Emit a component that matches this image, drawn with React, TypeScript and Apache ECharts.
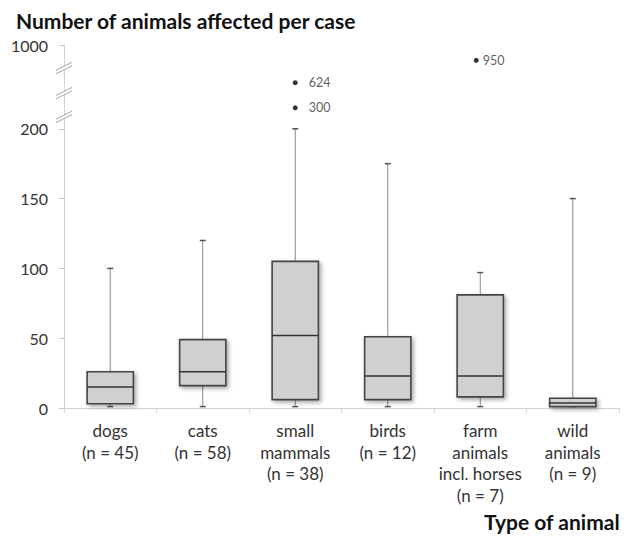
import React, { useEffect, useRef } from "react";
import * as echarts from "echarts";

// Categories and five-number summaries per animal group
const categories = [
  "dogs\n(n = 45)",
  "cats\n(n = 58)",
  "small\nmammals\n(n = 38)",
  "birds\n(n = 12)",
  "farm\nanimals\nincl. horses\n(n = 7)",
  "wild\nanimals\n(n = 9)",
];
const whiskerMin = [1, 1, 1, 1, 1, 1];
const quartile1 = [3, 16, 6, 6, 8, 1];
const medians = [15, 26, 52, 23, 23, 3.5];
const quartile3 = [26, 49, 105, 51, 81, 7];
const whiskerMax = [100, 120, 200, 175, 97, 150];

// Outliers beyond the whiskers
const outlierCategory = [2, 2, 4];
const outlierValue = [624, 300, 950];

// Tick labels on the value axis
const yTickValues = [0, 50, 100, 150, 200, 1000];

// Broken value axis: linear up to 200, then compressed segments
const axisKnotReal = [0, 200, 300, 624, 950, 1000];
const axisKnotDisplay = [0, 200, 215, 233, 249, 260];
const breakDisplay = [208.5, 225.5, 243.5];

function toDisplay(v: number): number {
  for (let i = 1; i < axisKnotReal.length; i++) {
    if (v <= axisKnotReal[i]) {
      const r0 = axisKnotReal[i - 1], r1 = axisKnotReal[i];
      const d0 = axisKnotDisplay[i - 1], d1 = axisKnotDisplay[i];
      return d0 + ((v - r0) / (r1 - r0)) * (d1 - d0);
    }
  }
  return axisKnotDisplay[axisKnotDisplay.length - 1];
}

function toReal(d: number): number {
  for (let i = 1; i < axisKnotDisplay.length; i++) {
    if (d <= axisKnotDisplay[i] + 1e-6) {
      const r0 = axisKnotReal[i - 1], r1 = axisKnotReal[i];
      const d0 = axisKnotDisplay[i - 1], d1 = axisKnotDisplay[i];
      return Math.round(r0 + ((d - d0) / (d1 - d0)) * (r1 - r0));
    }
  }
  return axisKnotReal[axisKnotReal.length - 1];
}

const FONT = "Lato, 'Open Sans', sans-serif";

export default function App() {
  const ref = useRef<HTMLDivElement>(null);

  useEffect(() => {
    document.body.style.margin = "0";
    if (!ref.current) return;
    const chart = echarts.init(ref.current, undefined, { renderer: "svg" });

    const boxData = categories.map((_, i) => [
      i,
      toDisplay(whiskerMin[i]),
      toDisplay(quartile1[i]),
      toDisplay(medians[i]),
      toDisplay(quartile3[i]),
      toDisplay(whiskerMax[i]),
    ]);

    const outlierData = outlierValue.map((v, i) => ({
      value: [outlierCategory[i], toDisplay(v)],
      real: v,
      symbolOffset: outlierCategory[i] === 4 ? [-4, 0] : [0, 0],
      label: { distance: outlierCategory[i] === 4 ? 4 : 11 },
    }));

    const yTicksDisplay = yTickValues.map(toDisplay);

    const option: any = {
      animation: false,
      backgroundColor: "#ffffff",
      title: {
        text: "Number of animals affected per case",
        left: 11,
        top: 5,
        textStyle: {
          fontFamily: FONT,
          fontWeight: "bold",
          fontSize: 21,
          color: "#111111",
        },
      },
      graphic: [
        {
          type: "text",
          right: 4,
          top: 511,
          style: {
            text: "Type of animal",
            fontFamily: FONT,
            fontWeight: "bold",
            fontSize: 21,
            fill: "#111111",
          },
        },
      ],
      grid: { left: 64, right: 5, top: 45, bottom: 131 },
      xAxis: {
        type: "category",
        data: categories,
        boundaryGap: true,
        axisLine: { lineStyle: { color: "#d4d4d4", width: 1 } },
        axisTick: { show: true, length: 5, lineStyle: { color: "#d4d4d4" } },
        axisLabel: {
          interval: 0,
          margin: 12,
          fontFamily: FONT,
          fontSize: 17,
          lineHeight: 21.5,
          color: "#333333",
          verticalAlign: "top",
        },
        splitLine: { show: false },
      },
      yAxis: {
        type: "value",
        min: 0,
        max: axisKnotDisplay[axisKnotDisplay.length - 1],
        axisLine: { show: true, lineStyle: { color: "#d4d4d4", width: 1 } },
        axisTick: {
          show: true,
          length: 5,
          customValues: yTicksDisplay,
          lineStyle: { color: "#c8c8c8" },
        },
        axisLabel: {
          customValues: yTicksDisplay,
          margin: 16,
          fontFamily: FONT,
          fontSize: 16,
          color: "#333333",
          formatter: (v: number) => String(toReal(v)),
        },
        splitLine: { show: false },
      },
      series: [
        {
          type: "custom",
          name: "boxes",
          data: boxData,
          encode: { x: 0, y: [1, 2, 3, 4, 5] },
          z: 3,
          renderItem: (params: any, api: any) => {
            const idx = api.value(0);
            const pMin = api.coord([idx, api.value(1)]);
            const pQ1 = api.coord([idx, api.value(2)]);
            const pMed = api.coord([idx, api.value(3)]);
            const pQ3 = api.coord([idx, api.value(4)]);
            const pMax = api.coord([idx, api.value(5)]);
            const band = api.size([1, 0])[0];
            const half = band * 0.25;
            const cx = pMed[0];
            const whiskerStyle = { stroke: "#8a8a8a", lineWidth: 1 };
            const capStyle = { stroke: "#555555", lineWidth: 1.5 };
            return {
              type: "group",
              children: [
                {
                  type: "line",
                  shape: { x1: cx, y1: pQ3[1], x2: cx, y2: pMax[1] },
                  style: whiskerStyle,
                },
                {
                  type: "line",
                  shape: { x1: cx, y1: pMin[1], x2: cx, y2: pQ1[1] },
                  style: whiskerStyle,
                },
                {
                  type: "line",
                  shape: { x1: cx - 3, y1: pMax[1], x2: cx + 3, y2: pMax[1] },
                  style: capStyle,
                },
                {
                  type: "line",
                  shape: { x1: cx - 3, y1: pMin[1], x2: cx + 3, y2: pMin[1] },
                  style: capStyle,
                },
                {
                  type: "rect",
                  shape: {
                    x: cx - half,
                    y: pQ3[1],
                    width: half * 2,
                    height: pQ1[1] - pQ3[1],
                  },
                  style: {
                    fill: "#d0d0d0",
                    stroke: "#444444",
                    lineWidth: 1.6,
                    shadowBlur: 4,
                    shadowOffsetX: 2,
                    shadowOffsetY: 2,
                    shadowColor: "rgba(0,0,0,0.35)",
                  },
                },
                {
                  type: "line",
                  shape: { x1: cx - half, y1: pMed[1], x2: cx + half, y2: pMed[1] },
                  style: { stroke: "#333333", lineWidth: 1.5 },
                },
              ],
            };
          },
        },
        {
          type: "scatter",
          name: "outliers",
          data: outlierData,
          symbol: "circle",
          symbolSize: 5,
          itemStyle: { color: "#000000" },
          z: 4,
          label: {
            show: true,
            position: "right",
            fontFamily: FONT,
            fontSize: 12.5,
            color: "#333333",
            formatter: (p: any) => String(p.data.real),
          },
        },
        {
          type: "custom",
          name: "axis breaks",
          data: breakDisplay.map((d) => [0, d]),
          encode: { x: 0, y: 1 },
          z: 5,
          silent: true,
          renderItem: (params: any, api: any) => {
            const p = api.coord([0, api.value(1)]);
            const band = api.size([1, 0])[0];
            const x0 = p[0] - band / 2;
            const y0 = p[1];
            const dx = 8;
            const dy = 4;
            const gap = 3.5;
            const lineStyle = { stroke: "#a6a6a6", lineWidth: 1 };
            return {
              type: "group",
              children: [
                {
                  type: "polygon",
                  shape: {
                    points: [
                      [x0 - dx, y0 + dy + gap / 2],
                      [x0 + dx, y0 - dy + gap / 2],
                      [x0 + dx, y0 - dy - gap / 2],
                      [x0 - dx, y0 + dy - gap / 2],
                    ],
                  },
                  style: { fill: "#ffffff" },
                },
                {
                  type: "line",
                  shape: { x1: x0 - dx, y1: y0 + dy + gap / 2, x2: x0 + dx, y2: y0 - dy + gap / 2 },
                  style: lineStyle,
                },
                {
                  type: "line",
                  shape: { x1: x0 - dx, y1: y0 + dy - gap / 2, x2: x0 + dx, y2: y0 - dy - gap / 2 },
                  style: lineStyle,
                },
              ],
            };
          },
        },
      ],
    };

    chart.setOption(option);
    return () => chart.dispose();
  }, []);

  return <div ref={ref} style={{ width: 624, height: 539 }} />;
}
